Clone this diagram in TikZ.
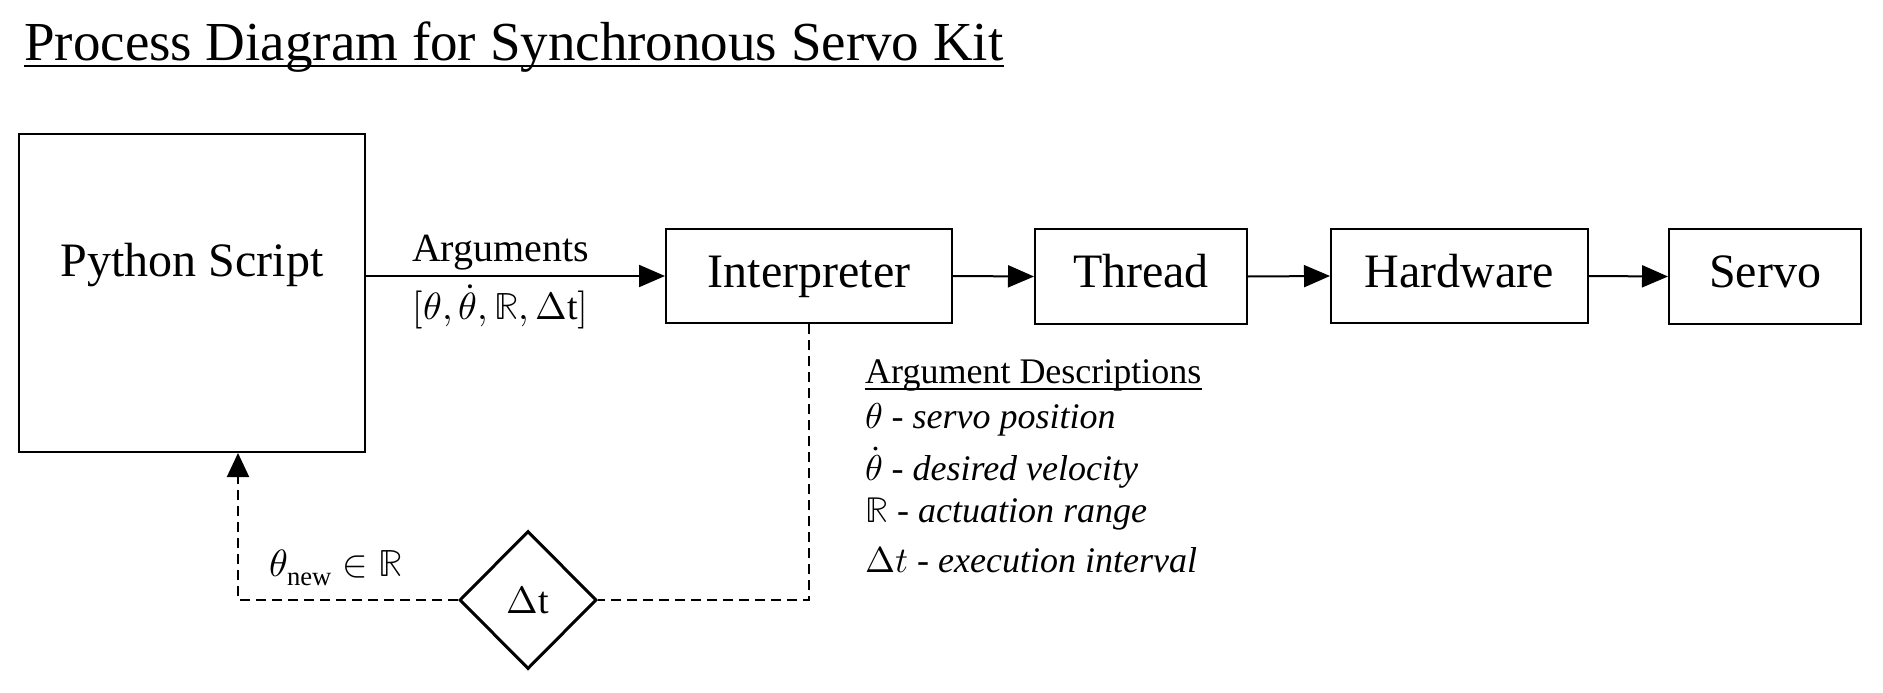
\documentclass[tikz,border=0pt]{standalone}
\usepackage{fontspec}
\usepackage{unicode-math}
\setmainfont{Liberation Serif}
\setmathfont{Latin Modern Math}
\usetikzlibrary{shapes.geometric,arrows.meta}
\begin{document}
\begin{tikzpicture}[x=1pt,y=-1pt,
  box/.style={draw,line width=2pt,inner sep=0pt,text height=34pt,text depth=12pt,font=\fontsize{48}{52}\selectfont},
  flow/.style={line width=2pt,-{Triangle[length=26pt,width=22pt]}},
  fb/.style={line width=2pt,dash pattern=on 10pt off 6pt},
  desc/.style={anchor=west,inner sep=0pt,font=\fontsize{36}{40}\selectfont}]
\useasboundingbox (0,0) rectangle (1883,693);
% title
\node[anchor=base west,inner sep=0pt,font=\fontsize{55}{60}\selectfont] (title) at (24,60) {Process Diagram for Synchronous Servo Kit};
\draw[line width=2.5pt] ([yshift=-6pt]title.base west) -- ([yshift=-6pt]title.base east);
% boxes
\node[box,minimum width=346pt,minimum height=318pt,text depth=68pt] (py) at (192,293) {Python Script};
\node[box,minimum width=286pt,minimum height=94pt] (int) at (809,276) {Interpreter};
\node[box,minimum width=212pt,minimum height=95pt] (thr) at (1141,276.5) {Thread};
\node[box,minimum width=257pt,minimum height=94pt] (hw) at (1459.5,276) {Hardware};
\node[box,minimum width=192pt,minimum height=95pt] (sv) at (1765,276.5) {Servo};
% arrows
\draw[flow] (py.east |- int.west) -- node[pos=0.45,above=2pt,font=\fontsize{40}{44}\selectfont] (arglab) {Arguments}
  node[pos=0.45,below=4pt,font=\fontsize{38}{42}\selectfont] (arglist) {$[\theta,\dot{\theta},\mathbb{R},\Delta\mathrm{t}]$} (int.west);
\draw[flow] (int.east) -- (thr.west);
\draw[flow] (thr.east) -- (hw.west);
\draw[flow] (hw.east) -- (sv.west);
% feedback
\node[draw,diamond,aspect=1,line width=3pt,inner sep=0pt,minimum width=137pt,minimum height=138pt,font=\fontsize{38}{42}\selectfont] (dt) at (528,600) {$\Delta\mathrm{t}$};
\draw[fb] (int.south) |- (dt.east);
\draw[fb,-{Triangle[length=24pt,width=22pt]}] (dt.west) -| ([xshift=46pt]py.south);
\node[inner sep=0pt,font=\fontsize{38}{42}\selectfont] (thnew) at (336,568) {$\theta_{\mathrm{new}}\in\mathbb{R}$};
% descriptions
\node[desc] (dh) at (865,375) {Argument Descriptions};
\draw[line width=1.8pt] ([yshift=-6pt]dh.base west) -- ([yshift=-6pt]dh.base east);
\node[desc] (d1) at (865,420) {$\theta$ \textit{- servo position}};
\node[desc] (d2) at (865,468) {$\dot{\theta}$ \textit{- desired velocity}};
\node[desc] (d3) at (865,514) {$\mathbb{R}$ \textit{- actuation range}};
\node[desc] (d4) at (865,560) {$\Delta t$ \textit{- execution interval}};
\end{tikzpicture}
\end{document}
